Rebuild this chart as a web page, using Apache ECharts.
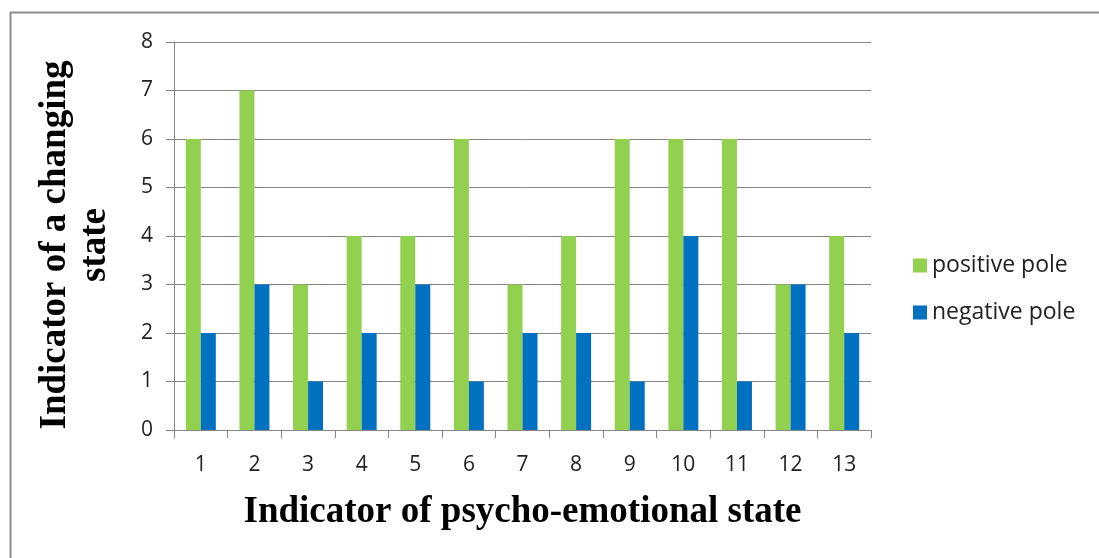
<!DOCTYPE html>
<html>
<head>
<meta charset="utf-8">
<script src="https://cdn.jsdelivr.net/npm/echarts@6/dist/echarts.min.js"></script>
<style>
  html, body { margin: 0; padding: 0; background: #fff; }
  #chart { width: 1099px; height: 558px; }
</style>
</head>
<body>
<div id="chart"></div>
<script>
// Indicators of psycho-emotional state and the counts at each pole
const categories = ['1', '2', '3', '4', '5', '6', '7', '8', '9', '10', '11', '12', '13'];
const positivePole = [6, 7, 3, 4, 4, 6, 3, 4, 6, 6, 6, 3, 4];
const negativePole = [2, 3, 1, 2, 3, 1, 2, 2, 1, 4, 1, 3, 2];
const yTicks = [0, 1, 2, 3, 4, 5, 6, 7, 8];

const labelFont = '"Open Sans", "Liberation Sans", sans-serif';
const titleFont = '"Liberation Serif", "DejaVu Serif", serif';

const chart = echarts.init(document.getElementById('chart'));
chart.setOption({
  animation: false,
  backgroundColor: '#ffffff',
  graphic: [
    {
      // outer frame of the chart area
      type: 'rect',
      shape: { x: 10.5, y: 12.5, width: 1200, height: 700 },
      style: { fill: 'none', stroke: '#8c8c8c', lineWidth: 2 },
      silent: true
    },
    {
      // vertical axis title, two lines, read bottom to top
      type: 'text',
      x: 35,
      y: 245,
      rotation: Math.PI / 2,
      style: {
        text: 'Indicator of a changing\nstate',
        font: 'bold 37px ' + titleFont,
        fill: '#000',
        align: 'center',
        verticalAlign: 'top',
        lineHeight: 40
      },
      silent: true
    }
  ],
  legend: {
    orient: 'vertical',
    left: 908,
    top: 249,
    itemWidth: 14,
    itemHeight: 14,
    itemGap: 24,
    icon: 'rect',
    textStyle: { fontFamily: labelFont, fontSize: 23, color: '#222' },
    data: ['positive pole', 'negative pole']
  },
  grid: { left: 174, right: 228, top: 42, bottom: 128, containLabel: false },
  xAxis: {
    type: 'category',
    data: categories,
    name: 'Indicator of psycho-emotional state',
    nameLocation: 'middle',
    nameGap: 64,
    nameTextStyle: { fontFamily: titleFont, fontWeight: 'bold', fontSize: 37, color: '#000' },
    axisLine: { lineStyle: { color: '#868686', width: 1 } },
    axisTick: { show: true, length: 8, lineStyle: { color: '#868686' } },
    axisLabel: { fontFamily: labelFont, fontSize: 21, color: '#222', margin: 25 }
  },
  yAxis: {
    type: 'value',
    min: 0,
    max: 8,
    interval: 1,
    axisLine: { show: true, lineStyle: { color: '#868686', width: 1 } },
    axisTick: { show: true, length: 8, lineStyle: { color: '#868686' } },
    axisLabel: {
      fontFamily: labelFont, fontSize: 21, color: '#222', margin: 21,
      formatter: v => yTicks.includes(v) ? String(v) : ''
    },
    splitLine: { show: true, lineStyle: { color: '#868686', width: 1 } }
  },
  series: [
    {
      name: 'positive pole',
      type: 'bar',
      data: positivePole,
      itemStyle: { color: '#92D050' },
      barWidth: 15,
      barGap: '0%'
    },
    {
      name: 'negative pole',
      type: 'bar',
      data: negativePole,
      itemStyle: { color: '#0070C0' },
      barWidth: 15,
      barGap: '0%'
    }
  ]
});
</script>
</body>
</html>
